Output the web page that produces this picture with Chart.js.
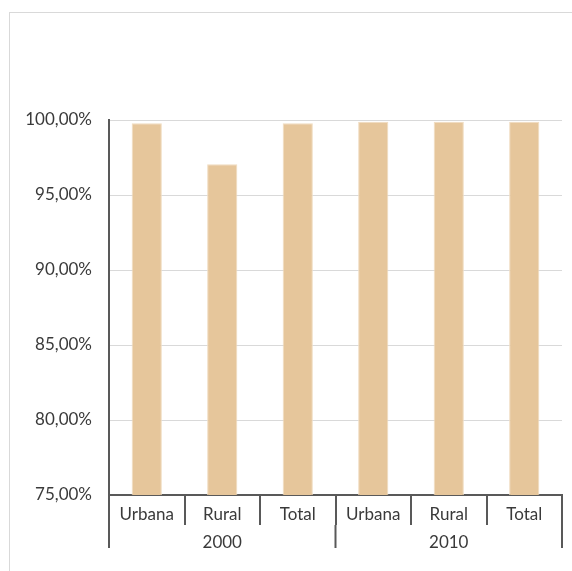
<!DOCTYPE html>
<html>
<head>
<meta charset="utf-8">
<script src="https://cdn.jsdelivr.net/npm/chart.js@4.4.1/dist/chart.umd.min.js"></script>
<style>
    html, body { margin: 0; padding: 0; background: #fff; overflow: hidden; }
    #frame { position: absolute; left: 9px; top: 12px; width: 600px; height: 600px; border-left: 1px solid #d9d9d9; border-top: 1px solid #d9d9d9; }
    #wrap { position: absolute; left: 0; top: 0; width: 572px; height: 571px; }
</style>
</head>
<body>
<div id="frame"></div>
<div id="wrap"><canvas id="coverageChart"></canvas></div>
<script>
const zoneLabels = ['Urbana', 'Rural', 'Total', 'Urbana', 'Rural', 'Total'];
const yearGroups = ['2000', '2010'];
const groupSize = 3;
const coverage = [99.78, 97.05, 99.78, 99.89, 99.89, 99.89];
const yTicks = [75, 80, 85, 90, 95, 100];

const axisColor = '#595959';
const textColor = '#3a3a3a';
const fontFamily = 'Lato, "Open Sans", sans-serif';

// draws the long separators and the year row under the category labels
const yearRowPlugin = {
    id: 'yearRow',
    afterDraw(chart) {
        const x = chart.scales.x;
        const ctx = chart.ctx;
        const step = x.getPixelForValue(1) - x.getPixelForValue(0);
        const top = x.top;
        ctx.save();
        ctx.strokeStyle = axisColor;
        ctx.lineWidth = 2;
        for (let g = 0; g <= yearGroups.length; g++) {
            const px = x.getPixelForValue(g * groupSize) - step / 2;
            ctx.beginPath();
            ctx.moveTo(px, top + 30);
            ctx.lineTo(px, top + 53);
            ctx.stroke();
        }
        ctx.fillStyle = textColor;
        ctx.font = '17px ' + fontFamily;
        ctx.textAlign = 'center';
        ctx.textBaseline = 'middle';
        yearGroups.forEach((yr, g) => {
            const a = x.getPixelForValue(g * groupSize);
            const b = x.getPixelForValue(g * groupSize + groupSize - 1);
            ctx.fillText(yr, (a + b) / 2, top + 48);
        });
        ctx.restore();
    }
};

const ctx = document.getElementById('coverageChart').getContext('2d');
new Chart(ctx, {
    type: 'bar',
    data: {
        labels: zoneLabels,
        datasets: [{ data: coverage, backgroundColor: '#E6C69B', borderColor: '#F0DCC0', borderWidth: 1, barPercentage: 0.4, categoryPercentage: 1 }]
    },
    options: {
        responsive: true, maintainAspectRatio: false, animation: false,
        layout: { padding: { top: 120, right: 10, left: 0, bottom: 0 } },
        plugins: { legend: { display: false }, tooltip: { enabled: false } },
        scales: {
            x: {
                offset: true,
                grid: { offset: true, drawOnChartArea: false, drawTicks: true, tickLength: 30, color: axisColor, lineWidth: 2 },
                border: { color: axisColor, width: 2 },
                ticks: { color: textColor, font: { family: fontFamily, size: 17 }, padding: -21, maxRotation: 0 },
                afterFit: (s) => { s.height = 76; }
            },
            y: {
                min: 75, max: 100,
                afterBuildTicks: (s) => { s.ticks = yTicks.map(v => ({ value: v })); },
                grid: { color: '#d9d9d9', lineWidth: 1, drawTicks: false },
                border: { color: axisColor, width: 2 },
                ticks: { color: textColor, font: { family: fontFamily, size: 17 }, padding: 17, callback: (v) => v.toFixed(2).replace('.', ',') + '%' },
                afterFit: (s) => { s.width = 109; }
            }
        }
    },
    plugins: [yearRowPlugin]
});
</script>
</body>
</html>
